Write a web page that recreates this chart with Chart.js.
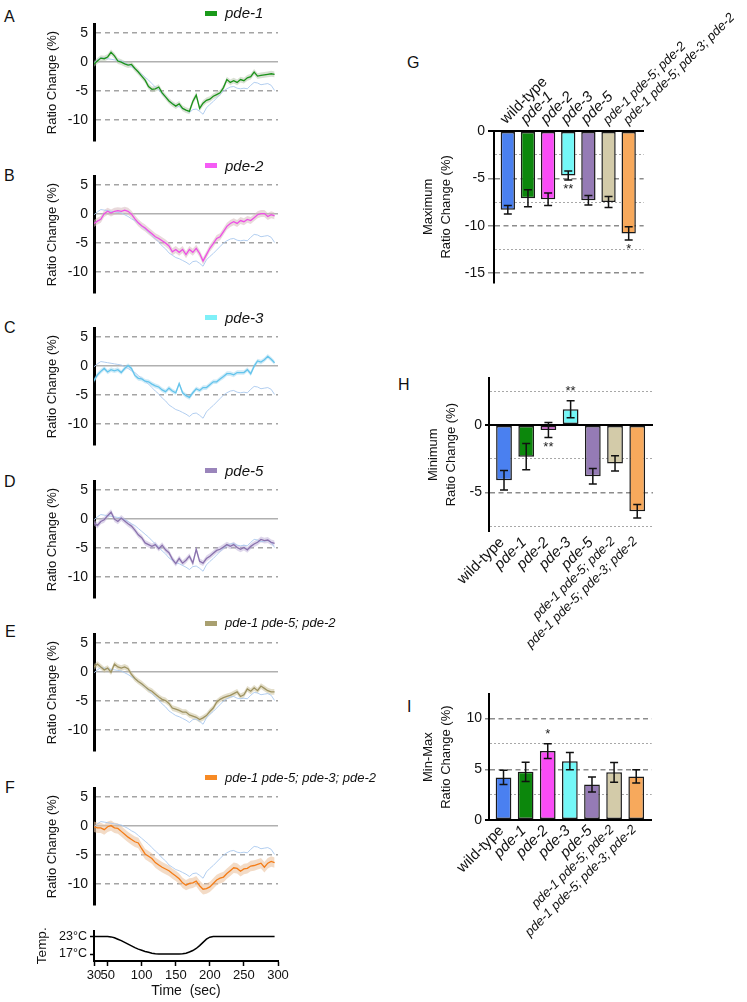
<!DOCTYPE html>
<html>
<head>
<meta charset="utf-8">
<title>pde mutants - ratio change during cooling</title>
<script src="https://cdn.jsdelivr.net/npm/chart.js@4.4.1/dist/chart.umd.min.js"></script>
<style>
  body { margin: 0; background: #fff; font-family: "Liberation Sans", Arial, Helvetica, sans-serif; }
  #fig { position: relative; width: 747px; height: 1002px; overflow: hidden; }
  #fig canvas { position: absolute; }
  .tag { position: absolute; font-size: 16px; line-height: 16px; color: #111; }
  .key { position: absolute; left: 225px; font-style: italic; line-height: 16px; color: #111; white-space: nowrap; }
  .swatch { position: absolute; left: 205px; width: 12px; height: 5px; }
</style>
</head>
<body>
<div id="fig">
  <div class="tag" style="left:4px;top:8.5px">A</div>
  <div class="tag" style="left:4px;top:167.5px">B</div>
  <div class="tag" style="left:4px;top:320px">C</div>
  <div class="tag" style="left:4px;top:473.5px">D</div>
  <div class="tag" style="left:5px;top:623.5px">E</div>
  <div class="tag" style="left:5px;top:780px">F</div>
  <div class="tag" style="left:407px;top:55px">G</div>
  <div class="tag" style="left:398px;top:376.5px">H</div>
  <div class="tag" style="left:407px;top:698.5px">I</div>
</div>
<script>
"use strict";

// ---- time course data (ratio change %, sampled every 5 s) ----
const time = [30, 35, 40, 45, 50, 55, 60, 65, 70, 75, 80, 85, 90, 95, 100, 105, 110, 115, 120, 125,
  130, 135, 140, 145, 150, 155, 160, 165, 170, 175, 180, 185, 190, 195, 200, 205, 210, 215, 220, 225,
  230, 235, 240, 245, 250, 255, 260, 265, 270, 275, 280, 285, 290, 295];

const wildType = [-0.1, 0.4, 0.8, 0.7, 0.6, 0.5, 0.4, 0.3, 0.2, -0.1,
  -0.4, -0.8, -1.1, -1.6, -2.1, -2.6, -3.1, -3.7, -4.3, -4.8,
  -5.5, -6.0, -6.7, -7.1, -7.5, -7.7, -8.0, -8.3, -8.7, -8.2,
  -8.1, -8.5, -9.0, -7.9, -7.3, -6.8, -6.2, -5.6, -5.0, -4.6,
  -4.3, -4.2, -4.5, -4.6, -4.5, -4.6, -4.0, -3.5, -3.6, -3.9,
  -3.8, -3.7, -4.0, -4.9];

const pde1 = [-0.3, 0.2, 0.7, 0.6, 0.9, 1.7, 1.1, 0.2, 0.0, -0.3,
  -0.5, -0.4, -1.1, -1.7, -2.4, -3.1, -4.2, -4.7, -4.6, -4.3,
  -5.3, -6.0, -6.7, -7.2, -7.6, -7.2, -8.0, -8.3, -8.5, -6.8,
  -5.7, -8.0, -7.1, -6.6, -6.4, -5.9, -5.6, -5.3, -4.4, -3.0,
  -3.5, -3.2, -3.5, -3.0, -3.2, -2.7, -2.5, -1.7, -2.4, -2.3,
  -2.2, -2.1, -2.0, -2.1];

const pde2 = [-1.6, -1.2, -0.9, 0.1, 0.5, 0.2, 0.5, 0.6, 0.5, 0.7,
  0.5, 0.0, -0.8, -1.5, -2.0, -2.4, -2.9, -3.4, -3.9, -4.2,
  -4.6, -5.0, -5.5, -6.5, -6.1, -6.6, -6.1, -7.0, -6.1, -6.6,
  -5.9, -6.8, -8.1, -7.0, -5.9, -5.1, -4.2, -3.9, -3.0, -2.1,
  -1.6, -1.3, -1.6, -1.1, -1.3, -0.9, -1.1, -0.6, -0.1, 0.1,
  0.1, -0.4, -0.1, -0.3];

const pde3 = [-2.5, -1.5, -0.9, -0.4, -1.0, -0.6, -0.8, -0.6, -1.1, -0.4,
  0.1, -0.4, -1.6, -2.1, -2.2, -2.6, -2.7, -3.1, -3.4, -3.6,
  -4.1, -4.4, -3.8, -4.3, -4.6, -3.0, -4.6, -5.1, -5.4, -4.6,
  -3.9, -4.2, -3.7, -3.7, -3.2, -2.7, -2.7, -2.2, -1.8, -1.3,
  -1.3, -1.5, -1.1, -1.1, -1.1, -0.6, -1.3, 0.0, 0.9, 0.7,
  1.1, 1.7, 1.2, 0.6];

const pde5 = [-0.6, -1.1, -0.4, -0.1, 0.6, 1.2, 0.0, -0.4, 0.2, -0.3,
  -0.8, -1.2, -1.9, -2.7, -3.2, -4.1, -4.4, -4.7, -4.4, -5.1,
  -4.5, -5.3, -5.8, -6.9, -7.7, -6.8, -7.6, -7.1, -6.4, -7.6,
  -5.2, -7.3, -7.6, -6.8, -6.4, -5.9, -5.4, -5.2, -4.8, -4.4,
  -4.7, -4.4, -4.9, -5.2, -4.9, -5.3, -4.7, -4.3, -4.0, -3.5,
  -3.7, -3.6, -4.0, -4.2];

const pde1pde5pde2 = [0.9, 1.4, 0.9, 0.4, 0.7, 0.0, 1.4, 0.9, 0.7, 0.9,
  0.6, -0.4, -1.1, -1.6, -2.0, -2.5, -3.0, -3.3, -3.8, -4.3,
  -4.7, -4.9, -5.4, -6.2, -6.4, -6.6, -6.9, -6.9, -7.4, -7.6,
  -7.8, -8.2, -7.9, -7.5, -6.8, -6.2, -5.2, -4.7, -4.4, -4.2,
  -4.0, -3.7, -3.4, -4.2, -3.9, -2.9, -3.3, -2.7, -3.2, -2.4,
  -2.8, -3.2, -3.4, -3.4];

const quadMutant = [-0.1, -0.3, -0.3, -0.6, -0.1, 0.1, -0.3, -0.4, -0.9, -1.4,
  -1.9, -2.3, -2.7, -2.9, -3.9, -4.8, -5.2, -5.6, -6.3, -6.7,
  -7.1, -7.4, -7.7, -8.2, -8.6, -9.1, -9.8, -10.2, -9.9, -9.8,
  -9.5, -10.3, -10.9, -10.8, -10.5, -9.9, -9.3, -9.0, -8.8, -8.2,
  -7.7, -7.2, -7.3, -7.8, -7.4, -7.3, -6.9, -6.8, -6.6, -6.4,
  -7.1, -6.4, -6.1, -6.3];

// SEM band half-width for panels A-F
const traceSem = [0.5, 0.6, 0.4, 0.5, 0.5, 0.9];

const temperature = [23, 23, 23, 23, 23, 22.9, 22.6, 22.1, 21.6, 21.0,
  20.4, 19.8, 19.2, 18.7, 18.3, 17.9, 17.6, 17.3, 17.1, 17.0,
  17.0, 17.0, 17.0, 17.0, 17.0, 17.0, 17.1, 17.3, 17.7, 18.2,
  18.9, 19.9, 21.0, 22.1, 22.8, 23, 23, 23, 23, 23,
  23, 23, 23, 23, 23, 23, 23, 23, 23, 23,
  23, 23, 23, 23];

const traceTicks = [-10, -5, 0, 5];
const tempTicks = [17, 23];
const timeTicks = [30, 50, 100, 150, 200, 250, 300];

// ---- summary bar data ----
const genotypes = ['wild-type', 'pde-1', 'pde-2', 'pde-3', 'pde-5',
  'pde-1 pde-5; pde-2', 'pde-1 pde-5; pde-3; pde-2'];

const maxMean = [-8.3, -7.1, -7.2, -4.7, -7.3, -7.5, -10.8];
const maxSem = [0.45, 0.9, 0.65, 0.47, 0.5, 0.58, 0.7];
const maxSig = ['', '', '', '**', '', '', '*'];

const minMean = [-4.1, -2.35, -0.37, 1.16, -3.8, -2.85, -6.4];
const minSem = [0.72, 0.97, 0.56, 0.63, 0.58, 0.56, 0.5];
const minSig = ['', '', '**', '**', '', '', ''];

const rangeMean = [4.2, 4.75, 6.8, 5.8, 3.5, 4.7, 4.3];
const rangeSem = [0.7, 0.95, 0.73, 0.85, 0.74, 0.98, 0.66];
const rangeSig = ['', '', '*', '', '', '', ''];

const maxTicks = [-15, -12.5, -10, -7.5, -5, -2.5, 0];
const minTicks = [-7.5, -5, -2.5, 0, 2.5];
const rangeTicks = [0, 2.5, 5, 7.5, 10];

const barColors = ['#4a80f0', '#0c870c', '#f94cf6', '#74f7f7', '#957bb5', '#d3cba9', '#f7a95c'];

Chart.defaults.font.family = '"Liberation Sans", Arial, Helvetica, sans-serif';
Chart.defaults.color = '#111';

const fig = document.getElementById('fig');

function addCanvas(left, top, w, h) {
    const c = document.createElement('canvas');
    c.width = w;
    c.height = h;
    c.style.left = left + 'px';
    c.style.top = top + 'px';
    fig.appendChild(c);
    return c;
}

const pts = values => values.map((v, i) => ({x: time[i], y: v}));

// time course panels (chart-area top, colours)
const panels = [
    {top: 12.7, values: pde1, line: '#1b931b', band: 'rgba(180,195,170,0.5)', key: '#1a9a1a', label: 'pde-1', size: 15},
    {top: 165.4, values: pde2, line: '#ee4fe6', band: 'rgba(215,185,190,0.55)', key: '#f55cf5', label: 'pde-2', size: 15},
    {top: 317.4, values: pde3, line: '#63c4ec', band: 'rgba(140,205,235,0.4)', key: '#7ff0f8', label: 'pde-3', size: 15},
    {top: 470.4, values: pde5, line: '#8a72ad', band: 'rgba(190,175,215,0.5)', key: '#9a85bb', label: 'pde-5', size: 15},
    {top: 622.7, values: pde1pde5pde2, line: '#9e9361', band: 'rgba(200,190,150,0.5)', key: '#a9a070', label: 'pde-1 pde-5; pde-2', size: 13},
    {top: 777.4, values: quadMutant, line: '#f47c16', band: 'rgba(235,195,160,0.6)', key: '#f78a25', label: 'pde-1 pde-5; pde-3; pde-2', size: 13}
];

panels.forEach((p, k) => {
    const sem = traceSem[k];
    const canvas = addCanvas(0, p.top - 3, 280, 145);
    new Chart(canvas, {
        type: 'line',
        data: {
            datasets: [
                {data: pts(p.values), borderColor: p.line, borderWidth: 1.3, pointRadius: 0},
                {data: pts(wildType), borderColor: '#a9c8ee', borderWidth: 0.9, pointRadius: 0},
                {data: pts(p.values.map(v => v + sem)), borderColor: 'transparent', borderWidth: 1, pointRadius: 0, fill: false},
                {data: pts(p.values.map(v => v - sem)), borderColor: 'transparent', borderWidth: 1, pointRadius: 0, fill: '-1', backgroundColor: p.band}
            ]
        },
        options: {
            responsive: false,
            animation: false,
            layout: {padding: {top: 3, bottom: 3, left: 0, right: 2}},
            plugins: {legend: {display: false}, tooltip: {enabled: false}},
            scales: {
                x: {type: 'linear', min: 30, max: 300, display: false},
                y: {
                    min: -13.56, max: 6.53,
                    afterFit: s => { s.width = 94; },
                    afterBuildTicks: s => { s.ticks = traceTicks.map(v => ({value: v})); },
                    ticks: {padding: 6, font: {size: 14}, callback: v => String(v)},
                    grid: {
                        drawTicks: false,
                        lineWidth: 1.5,
                        color: c => (c.tick && c.tick.value === 0) ? '#b0b0b0' : '#a4a4a4'
                    },
                    border: {color: '#000', width: 3, dash: c => (c.tick && c.tick.value !== 0) ? [5, 4] : []},
                    title: {display: true, text: 'Ratio Change (%)', font: {size: 13}, padding: {top: 45, bottom: 0}}
                }
            }
        }
    });

    // legend key
    const sw = document.createElement('span');
    sw.className = 'swatch';
    sw.style.top = (p.top + 0.5 - 2.5) + 'px';
    sw.style.background = p.key;
    fig.appendChild(sw);
    const tx = document.createElement('span');
    tx.className = 'key';
    tx.style.top = (p.top + 0.5 - 8) + 'px';
    tx.style.fontSize = p.size + 'px';
    tx.textContent = p.label;
    fig.appendChild(tx);
});

// temperature trace under panel F
new Chart(addCanvas(0, 920, 292, 82), {
    type: 'line',
    data: {datasets: [{data: pts(temperature), borderColor: '#000', borderWidth: 1.5, pointRadius: 0}]},
    options: {
        responsive: false,
        animation: false,
        layout: {padding: {top: 6, bottom: 0, left: 0, right: 14}},
        plugins: {legend: {display: false}, tooltip: {enabled: false}},
        scales: {
            x: {
                type: 'linear', min: 30, max: 300,
                afterFit: s => { s.height = 41; },
                afterBuildTicks: s => { s.ticks = timeTicks.map(v => ({value: v})); },
                ticks: {autoSkip: false, maxRotation: 0, padding: 2, font: {size: 13}},
                grid: {drawOnChartArea: false, tickLength: 5, color: '#000', tickWidth: 1.5},
                border: {color: '#000', width: 2},
                title: {display: true, text: 'Time  (sec)', font: {size: 14}, padding: {top: 0, bottom: 2}}
            },
            y: {
                min: 14.6, max: 25.1,
                afterFit: s => { s.width = 94; },
                afterBuildTicks: s => { s.ticks = tempTicks.map(v => ({value: v})); },
                ticks: {padding: 3, font: {size: 12.5}, callback: v => v + '°C'},
                grid: {drawOnChartArea: false, tickLength: 4, color: '#000', tickWidth: 1.5},
                border: {color: '#000', width: 2},
                title: {display: true, text: 'Temp.', font: {size: 13.5}, padding: {top: 34, bottom: 0}}
            }
        }
    }
});

// error bars and significance marks for the bar panels
const errorBars = {
    id: 'errorBars',
    afterDatasetsDraw(chart, args, opts) {
        const ctx = chart.ctx;
        const yScale = chart.scales.y;
        const meta = chart.getDatasetMeta(0);
        const points = chart.data.datasets[0].data;
        ctx.save();
        ctx.strokeStyle = '#111';
        ctx.lineWidth = 1.5;
        meta.data.forEach((bar, i) => {
            const v = points[i].y;
            const hi = yScale.getPixelForValue(v + opts.sem[i]);
            const lo = yScale.getPixelForValue(v - opts.sem[i]);
            ctx.beginPath();
            ctx.moveTo(bar.x, hi); ctx.lineTo(bar.x, lo);
            ctx.moveTo(bar.x - 4, hi); ctx.lineTo(bar.x + 4, hi);
            ctx.moveTo(bar.x - 4, lo); ctx.lineTo(bar.x + 4, lo);
            ctx.stroke();
            const mark = opts.sig[i];
            if (mark) {
                ctx.fillStyle = '#222';
                ctx.font = '13px "Liberation Sans", Arial, sans-serif';
                ctx.textAlign = 'center';
                if (v < 0) {
                    ctx.textBaseline = 'top';
                    ctx.fillText(mark, bar.x, lo + 3);
                } else {
                    ctx.textBaseline = 'bottom';
                    ctx.fillText(mark, bar.x, hi - 3);
                }
            }
        });
        ctx.restore();
    }
};

const isMajor = v => v % 5 === 0;

function barPanel(spec) {
    const canvas = addCanvas(spec.left, spec.top, spec.width, spec.height);
    return new Chart(canvas, {
        type: 'bar',
        data: {
            datasets: [{
                data: spec.mean.map((v, i) => ({x: i + 1, y: v})),
                backgroundColor: barColors,
                borderColor: '#1a1a1a',
                borderWidth: 1.5,
                borderSkipped: false,
                barPercentage: 0.71,
                categoryPercentage: 1
            }]
        },
        options: {
            responsive: false,
            animation: false,
            layout: {padding: spec.padding},
            plugins: {
                legend: {display: false},
                tooltip: {enabled: false},
                errorBars: {sem: spec.sem, sig: spec.sig}
            },
            scales: {
                x: {
                    type: 'linear',
                    offset: false,
                    position: spec.xPos,
                    min: spec.xMin, max: spec.xMax,
                    afterFit: s => { s.height = spec.xHeight; },
                    afterBuildTicks: s => { s.ticks = genotypes.map((g, i) => ({value: i + 1})); },
                    ticks: {
                        autoSkip: false, minRotation: 45, maxRotation: 45,
                        padding: spec.labelPad, labelOffset: spec.labelShift,
                        callback: (v, i) => genotypes[i],
                        font: c => ({size: c.index > 4 ? 13 : 15, style: c.index === 0 ? 'normal' : 'italic'})
                    },
                    grid: {display: false, drawTicks: false, offset: false},
                    border: {display: spec.xBorder, color: '#000', width: 2}
                },
                y: {
                    min: spec.yMin, max: spec.yMax,
                    afterFit: s => { s.width = spec.yWidth; },
                    afterBuildTicks: s => { s.ticks = spec.ticks.map(v => ({value: v})); },
                    ticks: {padding: 3, font: {size: 14}, callback: v => isMajor(v) ? String(v) : ''},
                    grid: {
                        tickLength: spec.tickLen,
                        color: c => !c.tick || c.tick.value === 0 ? '#000' : isMajor(c.tick.value) ? '#8c8c8c' : '#a8a8a8',
                        lineWidth: c => !c.tick || c.tick.value === 0 ? 2 : isMajor(c.tick.value) ? 1.5 : 1,
                        tickColor: c => !c.tick || c.tick.value === 0 ? '#000' : isMajor(c.tick.value) ? '#8c8c8c' : 'transparent'
                    },
                    border: {
                        color: '#000', width: 2,
                        dash: c => !c.tick || c.tick.value === 0 ? [] : isMajor(c.tick.value) ? [5, 3.5] : [2, 2]
                    },
                    title: {
                        display: true, text: spec.title,
                        font: {size: 13, lineHeight: 1.45},
                        padding: {top: spec.titlePad, bottom: 0}
                    }
                }
            }
        },
        plugins: [errorBars]
    });
}

// G: maximum ratio change
barPanel({
    left: 400, top: 0, width: 347, height: 300,
    padding: {top: 0, bottom: 17.3, left: 0, right: 85},
    xPos: 'top', xHeight: 131, yWidth: 94, xMin: 0.314, xMax: 7.744,
    yMin: -16, yMax: 0, ticks: maxTicks, tickLen: 6, labelPad: 3, labelShift: 8, xBorder: true,
    mean: maxMean, sem: maxSem, sig: maxSig,
    title: ['Maximum', 'Ratio Change (%)'], titlePad: 18.6
});

// H: minimum ratio change
barPanel({
    left: 400, top: 340, width: 347, height: 320,
    padding: {top: 37.7, bottom: 0, left: 0, right: 94},
    xPos: 'bottom', xHeight: 128.3, yWidth: 89, xMin: 0.324, xMax: 7.71,
    yMin: -7.92, yMax: 3.51, ticks: minTicks, tickLen: 4, labelPad: 2, labelShift: -2, xBorder: false,
    mean: minMean, sem: minSem, sig: minSig,
    title: ['Minimum', 'Ratio Change (%)'], titlePad: 23.6
});

// I: min-max ratio change
barPanel({
    left: 400, top: 660, width: 347, height: 342,
    padding: {top: 34.3, bottom: 0, left: 0, right: 95.3},
    xPos: 'bottom', xHeight: 182, yWidth: 89, xMin: 0.344, xMax: 7.70,
    yMin: 0, yMax: 12.4, ticks: rangeTicks, tickLen: 4, labelPad: 2, labelShift: -2, xBorder: true,
    mean: rangeMean, sem: rangeSem, sig: rangeSig,
    title: ['Min-Max', 'Ratio Change (%)'], titlePad: 18.6
});
</script>
</body>
</html>
